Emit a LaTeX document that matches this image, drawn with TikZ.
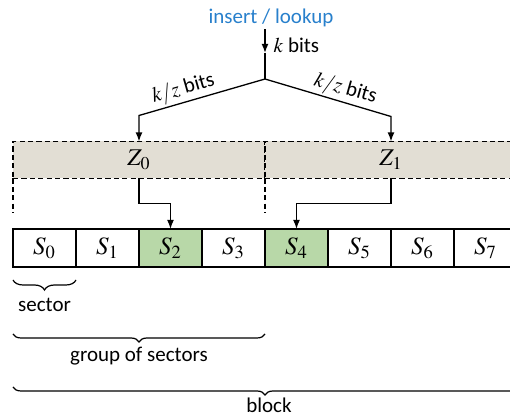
\documentclass[tikz,border=0pt]{standalone}
\usepackage{mathptmx}
\usepackage[no-math]{fontspec}
\setmainfont{Carlito}
\usepackage{tikz}
\usetikzlibrary{positioning,arrows.meta,calc,decorations.pathreplacing}
\definecolor{zonefill}{RGB}{226,222,212}
\definecolor{hitfill}{RGB}{184,216,168}
\definecolor{opblue}{RGB}{40,128,204}
\tikzset{
	sector/.style={rectangle, minimum width=31.5pt, minimum height=19pt, inner sep=0pt, outer sep=0pt, draw=black, line width=0.65pt, font=\fontsize{12.5}{15}\selectfont},
	zone/.style={rectangle, minimum width=126pt, minimum height=18.5pt, inner sep=0pt, outer sep=0pt, draw=black, dash pattern=on 2.6pt off 1.6pt, line width=0.8pt, fill=zonefill, font=\fontsize{12}{14}\selectfont},
	dashline/.style={dash pattern=on 2.6pt off 1.6pt, line width=0.8pt},
	bracket/.style={decorate, decoration={brace, mirror, amplitude=4pt}, line width=0.6pt},
	lbl/.style={inner sep=1pt, font=\fontsize{10.5}{12}\selectfont}
}

\begin{document}
\begin{tikzpicture}[x=0.5pt, y=-0.5pt, edge/.style = {->,> = {Latex[length=4.5pt,width=3.4pt]}, line width=0.65pt}]
\path[use as bounding box] (0,0) rectangle (510,416);
\clip (0,0) rectangle (510,416);
% zones
\node[zone] (Z0) at (139,160) {$Z_0$};
\node[zone, right=0pt of Z0] (Z1) {$Z_1$};
% sectors
\node[sector] (S0) at (44.5,248) {$S_0$};
\node[sector, right=0pt of S0] (S1) {$S_1$};
\node[sector, right=0pt of S1, fill=hitfill] (S2) {$S_2$};
\node[sector, right=0pt of S2] (S3) {$S_3$};
\node[sector, right=0pt of S3, fill=hitfill] (S4) {$S_4$};
\node[sector, right=0pt of S4] (S5) {$S_5$};
\node[sector, right=0pt of S5] (S6) {$S_6$};
\node[sector, right=0pt of S6] (S7) {$S_7$};
% request
\node[lbl, text=opblue] (op) at (271,18) {insert / lookup};
\coordinate (kb) at (265,53);
\coordinate (fork) at (265,79);
\coordinate (bl) at ($(Z0.north)+(0,-26)$);
\coordinate (br) at ($(Z1.north)+(0,-25)$);
\draw[edge] (op.south -| fork) -- (kb);
\draw[line width=0.65pt] (kb) -- node[lbl, pos=0, anchor=base west, xshift=3pt] {$k$ bits} (fork);
\draw[edge] (fork) -- node[lbl, pos=0.62, anchor=south, rotate=16] {$k/z$ bits} (bl) -- (Z0.north);
\draw[edge] (fork) -- node[lbl, pos=0.61, anchor=south, rotate=-16] {$k/z$ bits} (br) -- (Z1.north);
\draw[edge] (Z0.south) -- ++(0,25) -| (S2.north);
\draw[edge] (Z1.south) -- ++(0,25) -| (S4.north);
\draw[dashline] (Z0.south west) -- ++(0,34);
\draw[dashline] (Z0.south east) -- ++(0,34);

% the braces
\draw[bracket, decoration={amplitude=5pt}] ([yshift=-6.5pt]S0.south west) -- node[lbl, midway, anchor=base, yshift=-16pt] {sector} ([yshift=-6.5pt]S0.south east);
\draw[bracket] ([yshift=-33.5pt]S0.south west) -- node[lbl, midway, anchor=base, yshift=-14pt] {group of sectors} ([yshift=-33.5pt]S3.south east);
\draw[bracket] ([yshift=-60pt]S0.south west) -- node[lbl, midway, anchor=base, yshift=-13pt, xshift=2pt] {block} ([yshift=-60pt]S7.south east);
\end{tikzpicture}
\end{document}
